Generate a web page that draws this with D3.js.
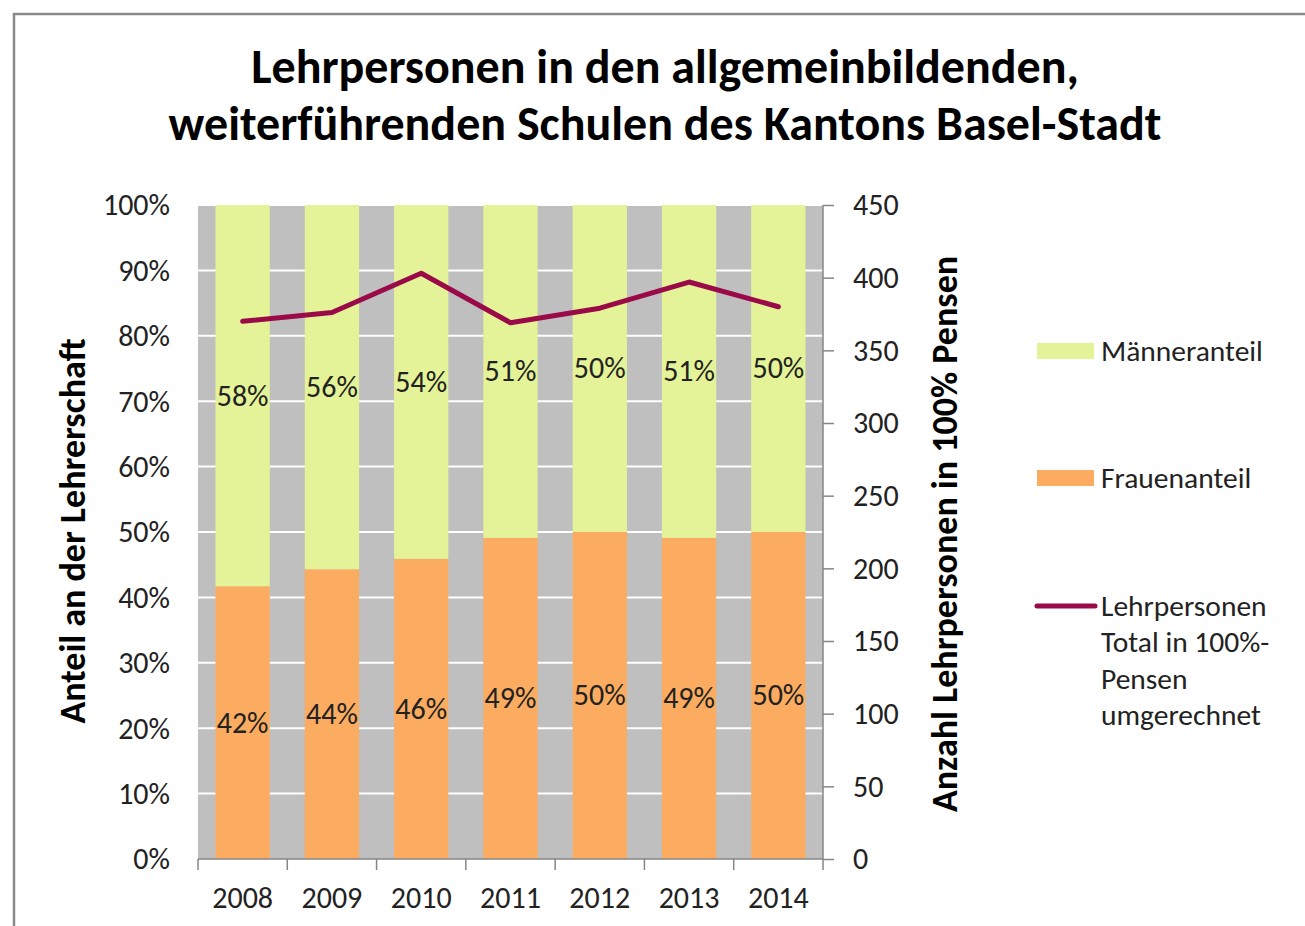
<!DOCTYPE html>
<html>
<head>
<meta charset="utf-8">
<script src="https://cdn.jsdelivr.net/npm/d3@7"></script>
<style>
  html, body { margin: 0; padding: 0; background: #fff; }
  svg { display: block; font-family: Carlito, "Open Sans", sans-serif; }
</style>
</head>
<body>
<svg id="chart" width="1305" height="926"></svg>
<script>
// Lehrpersonen an weiterführenden Schulen, Basel-Stadt
const years = ["2008", "2009", "2010", "2011", "2012", "2013", "2014"];
const womenShare = [0.417, 0.443, 0.459, 0.491, 0.500, 0.491, 0.500];
const menShare   = [0.583, 0.557, 0.541, 0.509, 0.500, 0.509, 0.500];
const totalFTE   = [370, 376, 403, 369, 379, 397, 380];
const leftTicks  = [0, 0.1, 0.2, 0.3, 0.4, 0.5, 0.6, 0.7, 0.8, 0.9, 1.0];
const rightTicks = [0, 50, 100, 150, 200, 250, 300, 350, 400, 450];
const titleLines = ["Lehrpersonen in den allgemeinbildenden,", "weiterführenden Schulen des Kantons Basel-Stadt"];
const legendItems = [
  { key: "men", label: ["Männeranteil"] },
  { key: "women", label: ["Frauenanteil"] },
  { key: "total", label: ["Lehrpersonen", "Total in 100%-", "Pensen", "umgerechnet"] }
];

const colors = { men: "#e4f398", women: "#fbac60", total: "#9b0a48", plotBg: "#bfbfbf", axis: "#868686", text: "#222" };
const fs = { title: 48, tick: 30, label: 30, axisTitle: 36, legend: 29.5 };

const svg = d3.select("#chart");
const plot = { left: 198, right: 823, top: 205, bottom: 859 };

// frame around the figure
svg.append("path")
  .attr("d", `M14,926 L14,14 L1305,14`)
  .attr("fill", "none").attr("stroke", "#8a8a8a").attr("stroke-width", 2.5);

// title
svg.append("g").selectAll("text").data(titleLines).join("text")
  .attr("x", 665).attr("y", (d, i) => 83 + i * 57)
  .attr("text-anchor", "middle")
  .attr("font-size", fs.title).attr("font-weight", "bold").attr("fill", "#000")
  .text(d => d);

const x = d3.scaleBand().domain(years).range([plot.left, plot.right])
  .paddingInner(0.392).paddingOuter(0.196);
const yPct = d3.scaleLinear().domain([0, 1]).range([plot.bottom, plot.top]);
const yNum = d3.scaleLinear().domain([0, 450]).range([plot.bottom, plot.top]);

// plot background
svg.append("rect")
  .attr("x", plot.left).attr("y", plot.top)
  .attr("width", plot.right - plot.left).attr("height", plot.bottom - plot.top)
  .attr("fill", colors.plotBg);

// horizontal gridlines
svg.append("g").selectAll("line").data(leftTicks.slice(1)).join("line")
  .attr("x1", plot.left).attr("x2", plot.right)
  .attr("y1", d => yPct(d)).attr("y2", d => yPct(d))
  .attr("stroke", "#fff").attr("stroke-width", 2);

// stacked bars
const rows = years.map((y, i) => ({ year: y, women: womenShare[i], men: menShare[i] }));
const stack = d3.stack().keys(["women", "men"])(rows);
const layers = svg.append("g").selectAll("g").data(stack).join("g")
  .attr("fill", d => colors[d.key]);
layers.selectAll("rect").data(d => d).join("rect")
  .attr("x", d => x(d.data.year))
  .attr("width", x.bandwidth())
  .attr("y", d => yPct(d[1]))
  .attr("height", d => yPct(d[0]) - yPct(d[1]));

// segment labels
const fmt = d3.format(".0%");
layers.selectAll("text").data(d => d.map(s => ({ s, key: d.key }))).join("text")
  .attr("x", d => x(d.s.data.year) + x.bandwidth() / 2)
  .attr("y", d => (yPct(d.s[0]) + yPct(d.s[1])) / 2)
  .attr("dy", "0.33em")
  .attr("text-anchor", "middle")
  .attr("font-size", fs.label).attr("fill", colors.text)
  .text(d => fmt(d.s.data[d.key]));

// bottom axis
const xAxis = svg.append("g").attr("transform", `translate(0,${plot.bottom})`);
xAxis.append("line").attr("x1", plot.left).attr("x2", plot.right)
  .attr("stroke", colors.axis).attr("stroke-width", 1.5);
const boundaries = years.map(y => x(y) - x.step() * x.paddingInner() / 2).concat([plot.right]);
xAxis.selectAll("line.tick").data(boundaries).join("line").attr("class", "tick")
  .attr("x1", d => d).attr("x2", d => d).attr("y1", 0).attr("y2", 11)
  .attr("stroke", colors.axis).attr("stroke-width", 1.5);
xAxis.selectAll("text").data(years).join("text")
  .attr("x", d => x(d) + x.bandwidth() / 2).attr("y", 49)
  .attr("text-anchor", "middle").attr("font-size", fs.tick).attr("fill", colors.text)
  .text(d => d);

// left axis labels (no line)
const leftAxis = d3.axisLeft(yPct).tickValues(leftTicks).tickFormat(d3.format(".0%"))
  .tickSize(0).tickPadding(28);
const gl = svg.append("g").attr("transform", `translate(${plot.left},0)`).call(leftAxis)
  .attr("font-family", null).attr("font-size", fs.tick);
gl.select(".domain").remove();
gl.selectAll("text").attr("fill", colors.text).attr("dy", "0.33em");

// right axis
const rightAxis = d3.axisRight(yNum).tickValues(rightTicks).tickSize(11).tickPadding(19);
const gr = svg.append("g").attr("transform", `translate(${plot.right},0)`).call(rightAxis)
  .attr("font-family", null).attr("font-size", fs.tick);
gr.select(".domain").attr("stroke", colors.axis).attr("stroke-width", 1.5).attr("d", `M0,${plot.bottom}V${plot.top}`);
gr.selectAll(".tick line").attr("stroke", colors.axis).attr("stroke-width", 1.5);
gr.selectAll("text").attr("fill", colors.text).attr("dy", "0.33em");

// total line
const line = d3.line().x((d, i) => x(years[i]) + x.bandwidth() / 2).y(d => yNum(d));
svg.append("path").datum(totalFTE)
  .attr("d", line).attr("fill", "none")
  .attr("stroke", colors.total).attr("stroke-width", 5)
  .attr("stroke-linejoin", "round").attr("stroke-linecap", "round");

// axis titles
svg.append("text")
  .attr("transform", `translate(85,531) rotate(-90)`)
  .attr("text-anchor", "middle").attr("font-size", fs.axisTitle).attr("font-weight", "bold").attr("fill", "#000")
  .text("Anteil an der Lehrerschaft");
svg.append("text")
  .attr("transform", `translate(957,534) rotate(-90)`)
  .attr("text-anchor", "middle").attr("font-size", fs.axisTitle).attr("font-weight", "bold").attr("fill", "#000")
  .text("Anzahl Lehrpersonen in 100% Pensen");

// legend
const legendY = [351, 478, 606];
const lg = svg.append("g").selectAll("g").data(legendItems).join("g")
  .attr("transform", (d, i) => `translate(1037,${legendY[i]})`);
lg.filter(d => d.key !== "total").append("rect")
  .attr("x", 0).attr("y", -8).attr("width", 57).attr("height", 16)
  .attr("fill", d => colors[d.key]);
lg.filter(d => d.key === "total").append("line")
  .attr("x1", 0).attr("x2", 58).attr("y1", 0).attr("y2", 0)
  .attr("stroke", colors.total).attr("stroke-width", 5).attr("stroke-linecap", "round");
lg.each(function(d) {
  const t = d3.select(this).append("text").attr("x", 64).attr("font-size", fs.legend).attr("fill", colors.text);
  t.selectAll("tspan").data(d.label).join("tspan")
    .attr("x", 64).attr("y", (s, j) => j * 36.5).attr("dy", "0.33em").text(s => s);
});
</script>
</body>
</html>
